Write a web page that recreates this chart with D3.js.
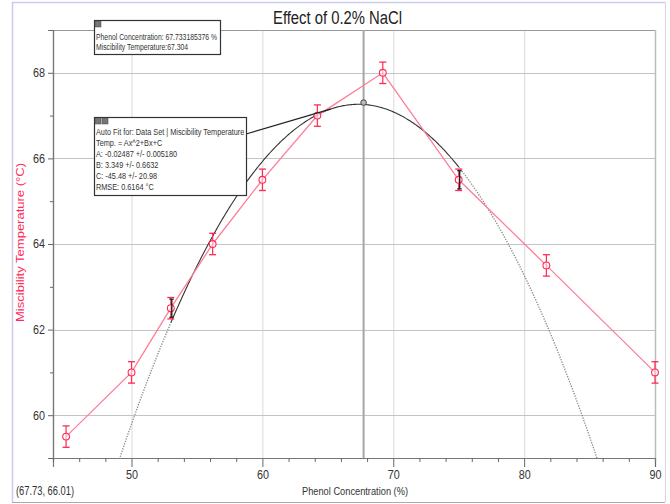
<!DOCTYPE html>
<html>
<head>
<meta charset="utf-8">
<script src="https://cdn.jsdelivr.net/npm/d3@7"></script>
<style>
  html, body { margin: 0; padding: 0; background: #fff; }
  svg { display: block; }
  text { font-family: "Liberation Sans Narrow", "Arial Narrow", "Liberation Sans", Arial, sans-serif; }
</style>
</head>
<body>
<svg id="chart" width="670" height="504"></svg>
<script>
// Measured miscibility temperatures at each phenol concentration
const phenol = [45, 50, 53, 56.2, 60, 64.2, 69.2, 75, 81.7, 90];
const temps = [59.5, 61, 62.5, 64, 65.5, 67, 68, 65.5, 63.5, 61];
const errs = [0.25, 0.25, 0.25, 0.25, 0.25, 0.25, 0.25, 0.25, 0.25, 0.25];

// Quadratic fit: Temp = A*x^2 + B*x + C, fitted over the selected range
const fitA = -0.02487, fitB = 3.349, fitC = -45.48;
const fitRange = [53, 75];

// Cursor readout
const cursor = { x: 67.733185376, y: 67.304 };

const xTicks = [50, 60, 70, 80, 90];
const xMinor = d3.range(44, 91, 2);
const yTicks = [60, 62, 64, 66, 68];
const yMinor = d3.range(59, 70, 1);

const svg = d3.select("#chart");
const plot = { left: 53, right: 655, top: 30, bottom: 458 };

const x = d3.scaleLinear().domain([44, 90]).range([plot.left, plot.right]);
const y = d3.scaleLinear().domain([59, 69]).range([plot.bottom, plot.top]);

const red = "#ff2a55";
const pink = "#ff7d96";

// Condensed text: squeeze horizontally to a set width
function fitText(sel, width) {
  return sel.attr("textLength", width).attr("lengthAdjust", "spacingAndGlyphs");
}

// Outer frame
svg.append("line").attr("x1", 12.5).attr("x2", 12.5).attr("y1", 2).attr("y2", 502)
  .attr("stroke", "#c9cbef").attr("stroke-width", 1.5);
svg.append("line").attr("x1", 12).attr("x2", 665).attr("y1", 2.5).attr("y2", 2.5)
  .attr("stroke", "#c9cbef").attr("stroke-width", 1.5);
svg.append("line").attr("x1", 12).attr("x2", 665).attr("y1", 502.5).attr("y2", 502.5)
  .attr("stroke", "#aaa").attr("stroke-width", 1);
svg.append("line").attr("x1", 665.5).attr("x2", 665.5).attr("y1", 2).attr("y2", 502)
  .attr("stroke", "#d8d8d8").attr("stroke-width", 1);

// Title
fitText(svg.append("text").attr("x", 273).attr("y", 24)
  .attr("font-size", 18).attr("fill", "#222").text("Effect of 0.2% NaCl"), 129);

// Gridlines
const grid = svg.append("g");
grid.selectAll(".vg").data(xTicks.filter(d => d < 90)).join("line")
  .attr("x1", d => x(d) + 0.5).attr("x2", d => x(d) + 0.5)
  .attr("y1", plot.top).attr("y2", plot.bottom)
  .attr("stroke", "#e0e0e0").attr("stroke-width", 1.2);
grid.selectAll(".hg").data(yTicks).join("line")
  .attr("x1", plot.left).attr("x2", plot.right)
  .attr("y1", d => Math.round(y(d)) + 0.5).attr("y2", d => Math.round(y(d)) + 0.5)
  .attr("stroke", "#c4c4c4").attr("stroke-width", 1);

// Plot frame (top and right)
svg.append("line").attr("x1", plot.left).attr("x2", plot.right)
  .attr("y1", plot.top + 0.5).attr("y2", plot.top + 0.5).attr("stroke", "#999");
svg.append("line").attr("x1", plot.right + 0.5).attr("x2", plot.right + 0.5)
  .attr("y1", plot.top).attr("y2", plot.bottom).attr("stroke", "#bbb").attr("stroke-width", 1.5);

// Cursor vertical line
svg.append("line").attr("x1", x(cursor.x)).attr("x2", x(cursor.x))
  .attr("y1", plot.top).attr("y2", plot.bottom)
  .attr("stroke", "#a6a6a6").attr("stroke-width", 2);

// Axes
const xAxis = svg.append("g").attr("transform", `translate(0,${plot.bottom})`)
  .call(d3.axisBottom(x).tickValues(xTicks).tickSize(9).tickPadding(3).tickFormat(d3.format("d")));
const xMinorAxis = svg.append("g").attr("transform", `translate(0,${plot.bottom})`)
  .call(d3.axisBottom(x).tickValues(xMinor.filter(d => !xTicks.includes(d))).tickSize(4).tickFormat(""));
const yAxis = svg.append("g").attr("transform", `translate(${plot.left},0)`)
  .call(d3.axisLeft(y).tickValues(yTicks).tickSize(5).tickPadding(3).tickFormat(d3.format("d")));
const yMinorAxis = svg.append("g").attr("transform", `translate(${plot.left},0)`)
  .call(d3.axisLeft(y).tickValues(yMinor.filter(d => !yTicks.includes(d))).tickSize(3).tickFormat(""));

[xAxis, xMinorAxis, yAxis, yMinorAxis].forEach(g => {
  g.select(".domain").attr("stroke", "#777").attr("stroke-width", 1.2);
  g.selectAll(".tick line").attr("stroke", "#666");
  g.selectAll(".tick text").attr("font-size", 12).attr("fill", "#333")
    .attr("font-family", "'Liberation Sans Narrow', 'Arial Narrow', 'Liberation Sans', Arial, sans-serif")
    .attr("textLength", 12).attr("lengthAdjust", "spacingAndGlyphs");
});

// Axis titles
fitText(svg.append("text").attr("x", 302).attr("y", 495)
  .attr("font-size", 11.5).attr("fill", "#333").text("Phenol Concentration (%)"), 106);
fitText(svg.append("text").attr("transform", `translate(24,322) rotate(-90)`)
  .attr("font-size", 11).attr("fill", red)
  .text("Miscibility Temperature (°C)"), 159);

// Cursor coordinate readout
fitText(svg.append("text").attr("x", 16).attr("y", 495).attr("font-size", 12).attr("fill", "#333")
  .text("(67.73, 66.01)"), 58);

// Clip region for plotted content
svg.append("clipPath").attr("id", "clip").append("rect")
  .attr("x", plot.left).attr("y", plot.top)
  .attr("width", plot.right - plot.left + 6).attr("height", plot.bottom - plot.top);
const content = svg.append("g").attr("clip-path", "url(#clip)");

// Fit curve
const fit = v => fitA * v * v + fitB * v + fitC;
const line = d3.line().x(d => x(d)).y(d => y(fit(d)));
const leftPart = d3.range(44, fitRange[0] + 0.001, 0.1);
const midPart = d3.range(fitRange[0], fitRange[1] + 0.001, 0.1);
const rightPart = d3.range(fitRange[1], 90.001, 0.1);
[leftPart, rightPart].forEach(part => {
  content.append("path").attr("d", line(part)).attr("fill", "none")
    .attr("stroke", "#888").attr("stroke-width", 1.3).attr("stroke-dasharray", "1.3,1.3");
});
content.append("path").attr("d", line(midPart)).attr("fill", "none")
  .attr("stroke", "#333").attr("stroke-width", 1.1);

// Data line
const pts = phenol.map((p, i) => ({ x: p, y: temps[i], e: errs[i] }));
content.append("path")
  .attr("d", d3.line().x(d => x(d.x)).y(d => y(d.y))(pts))
  .attr("fill", "none").attr("stroke", pink).attr("stroke-width", 1.3);

// Error bars
const eb = content.selectAll(".eb").data(pts).join("g");
eb.append("line").attr("x1", d => x(d.x)).attr("x2", d => x(d.x))
  .attr("y1", d => y(d.y - d.e)).attr("y2", d => y(d.y + d.e))
  .attr("stroke", red).attr("stroke-width", 1.2);
eb.append("line").attr("x1", d => x(d.x) - 3.5).attr("x2", d => x(d.x) + 3.5)
  .attr("y1", d => y(d.y + d.e)).attr("y2", d => y(d.y + d.e))
  .attr("stroke", red).attr("stroke-width", 1.3);
eb.append("line").attr("x1", d => x(d.x) - 3.5).attr("x2", d => x(d.x) + 3.5)
  .attr("y1", d => y(d.y - d.e)).attr("y2", d => y(d.y - d.e))
  .attr("stroke", red).attr("stroke-width", 1.3);

// Markers
content.selectAll(".pt").data(pts).join("circle")
  .attr("cx", d => x(d.x)).attr("cy", d => y(d.y)).attr("r", 3.4)
  .attr("fill", "#fff").attr("fill-opacity", 0.6)
  .attr("stroke", red).attr("stroke-width", 1.1);

// Range bounds of the fit (black bars on the bounding points)
const bounds = pts.filter(d => d.x === fitRange[0] || d.x === fitRange[1]);
const bb = content.selectAll(".bb").data(bounds).join("g");
bb.append("line").attr("x1", d => x(d.x) + 1).attr("x2", d => x(d.x) + 1)
  .attr("y1", d => y(d.y - d.e * 0.85)).attr("y2", d => y(d.y + d.e * 0.85))
  .attr("stroke", "#222").attr("stroke-width", 1.4);
bb.append("line").attr("x1", d => x(d.x) - 1.5).attr("x2", d => x(d.x) + 3)
  .attr("y1", d => y(d.y + d.e * 0.85)).attr("y2", d => y(d.y + d.e * 0.85))
  .attr("stroke", "#222").attr("stroke-width", 1.2);
bb.append("line").attr("x1", d => x(d.x) - 1.5).attr("x2", d => x(d.x) + 3)
  .attr("y1", d => y(d.y - d.e * 0.85)).attr("y2", d => y(d.y - d.e * 0.85))
  .attr("stroke", "#222").attr("stroke-width", 1.2);

// Cursor point on the fit
content.append("circle").attr("cx", x(cursor.x)).attr("cy", y(cursor.y)).attr("r", 2.8)
  .attr("fill", "#bbb").attr("stroke", "#444").attr("stroke-width", 1);

// Annotation boxes
function infoBox(bx, by, bw, bh, lines, icons, squeeze) {
  const g = svg.append("g");
  g.append("rect").attr("x", bx + 0.5).attr("y", by + 0.5).attr("width", bw).attr("height", bh)
    .attr("fill", "#fff").attr("stroke", "#333").attr("stroke-width", 1.2);
  for (let i = 0; i < icons; i++) {
    g.append("rect").attr("x", bx + 1 + i * 7).attr("y", by + 1).attr("width", 6).attr("height", 6)
      .attr("fill", "#777").attr("stroke", "#444").attr("stroke-width", 0.5);
  }
  lines.forEach(t => {
    g.append("text").attr("transform", `translate(${bx + 2},${t.y}) scale(${squeeze},1)`)
      .attr("font-size", 9.5).attr("fill", "#333").text(t.text);
  });
  return g;
}

infoBox(94, 20, 126, 34, [
  { text: "Phenol Concentration: 67.733185376 %", y: 40 },
  { text: "Miscibility Temperature:67.304", y: 50 }
], 1, 0.72);

// Leader from the fit box to the curve
const leadX = 65.2;
svg.append("line").attr("x1", 246).attr("y1", 134)
  .attr("x2", x(leadX)).attr("y2", y(fit(leadX)))
  .attr("stroke", "#222").attr("stroke-width", 1.1);

infoBox(94, 117, 152, 78, [
  { text: "Auto Fit for: Data Set | Miscibility Temperature", y: 135 },
  { text: "Temp. = Ax^2+Bx+C", y: 146 },
  { text: "A: -0.02487 +/- 0.005180", y: 157 },
  { text: "B: 3.349 +/- 0.6632", y: 168 },
  { text: "C: -45.48 +/- 20.98", y: 179 },
  { text: "RMSE: 0.6164 °C", y: 190 }
], 2, 0.77);
</script>
</body>
</html>
